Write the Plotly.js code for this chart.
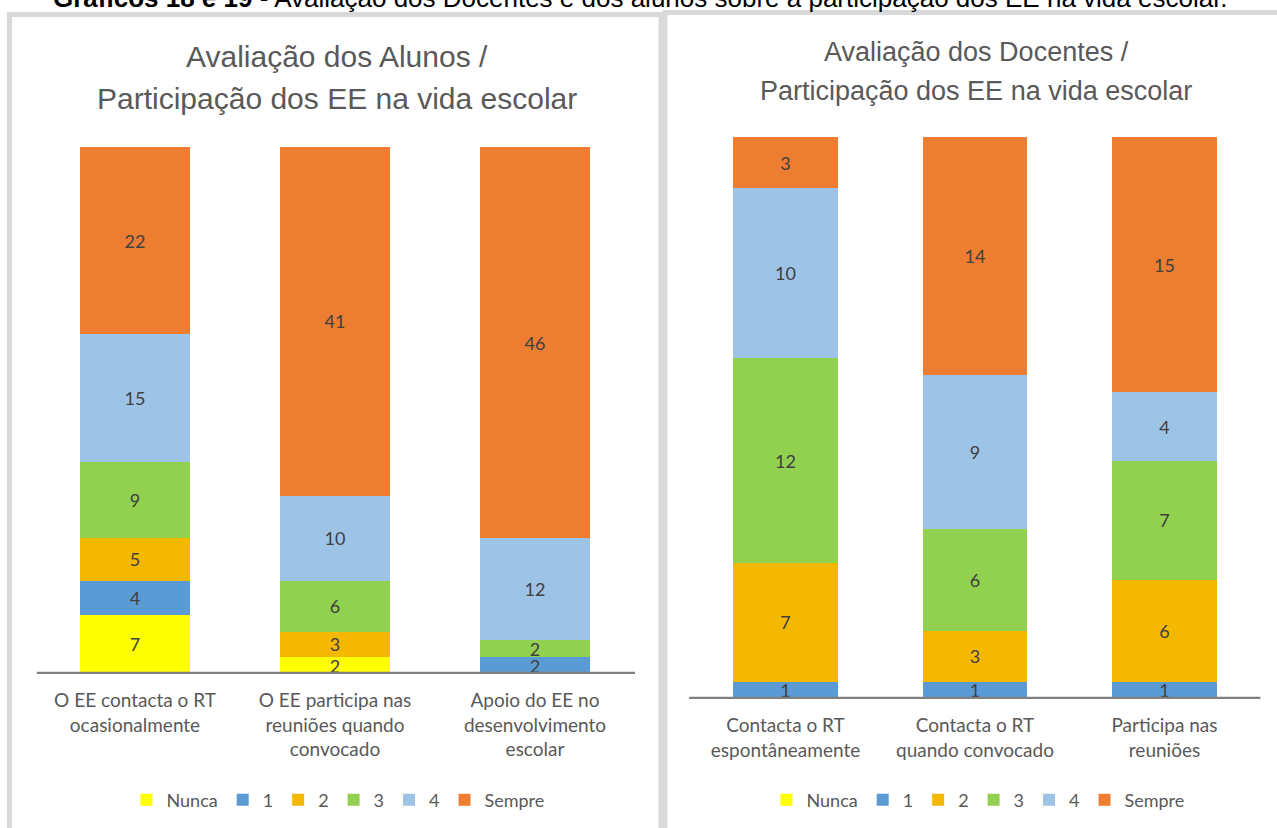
<!DOCTYPE html>
<html>
<head>
<meta charset="utf-8">
<script src="https://cdn.plot.ly/plotly-3.0.1.min.js"></script>
<style>
  html, body { margin: 0; padding: 0; background: #ffffff; }
  #chart { width: 1277px; height: 828px; }
</style>
</head>
<body>
<div id="chart"></div>
<script>
// ---------- Data ----------
var seriesNames = ['Nunca', '1', '2', '3', '4', 'Sempre'];
var seriesColors = ['#FFFF00', '#5B9BD5', '#F5B800', '#92D050', '#9DC3E6', '#ED7D31'];

// Chart 1: Avaliação dos Alunos
var alunosCategorias = ['O EE contacta o RT ocasionalmente', 'O EE participa nas reuniões quando convocado', 'Apoio do EE no desenvolvimento escolar'];
var alunosTickLabels = ['O EE contacta o RT<br>ocasionalmente', 'O EE participa nas<br>reuniões quando<br>convocado', 'Apoio do EE no<br>desenvolvimento<br>escolar'];
var alunosNunca  = [7, 2, 0];
var alunos1      = [4, 0, 2];
var alunos2      = [5, 3, 0];
var alunos3      = [9, 6, 2];
var alunos4      = [15, 10, 12];
var alunosSempre = [22, 41, 46];

// Chart 2: Avaliação dos Docentes
var docentesCategorias = ['Contacta o RT espontâneamente', 'Contacta o RT quando convocado', 'Participa nas reuniões'];
var docentesTickLabels = ['Contacta o RT<br>espontâneamente', 'Contacta o RT<br>quando convocado', 'Participa nas<br>reuniões'];
var docentesNunca  = [0, 0, 0];
var docentes1      = [1, 1, 1];
var docentes2      = [7, 3, 6];
var docentes3      = [12, 6, 7];
var docentes4      = [10, 9, 4];
var docentesSempre = [3, 14, 15];

var captionBold = 'Gráficos 18 e 19';
var captionRest = ' - Avaliação dos Docentes e dos alunos sobre a participação dos EE na vida escolar.';
var tituloAlunos = ['Avaliação dos Alunos /', 'Participação dos EE na vida escolar'];
var tituloDocentes = ['Avaliação dos Docentes /', 'Participação dos EE na vida escolar'];

// ---------- Layout helpers ----------
var W = 1277, H = 828;
function px(x) { return x / W; }
function py(y) { return 1 - y / H; }

var labelFont = 'Lato, "Open Sans", sans-serif';
var arialFont = 'Arial, "Liberation Sans", sans-serif';

function makeTraces(cats, seriesVals, xa, ya, legendId) {
  return seriesVals.map(function (vals, i) {
    return {
      type: 'bar',
      name: seriesNames[i],
      x: cats,
      y: vals,
      xaxis: xa,
      yaxis: ya,
      legend: legendId,
      marker: { color: seriesColors[i], line: { width: 0 } },
      text: vals.map(function (v) { return v > 0 ? String(v) : ''; }),
      textposition: 'inside',
      insidetextanchor: 'middle',
      textangle: 0,
      constraintext: 'none',
      textfont: { family: labelFont, size: 18, color: '#404040' },
      hoverinfo: 'skip'
    };
  });
}

var traces = []
  .concat(makeTraces(alunosCategorias, [alunosNunca, alunos1, alunos2, alunos3, alunos4, alunosSempre], 'x', 'y', 'legend'))
  .concat(makeTraces(docentesCategorias, [docentesNunca, docentes1, docentes2, docentes3, docentes4, docentesSempre], 'x2', 'y2', 'legend2'));

var alunosTotal = alunosNunca.map(function (v, i) { return v + alunos1[i] + alunos2[i] + alunos3[i] + alunos4[i] + alunosSempre[i]; });
var docentesTotal = docentesNunca.map(function (v, i) { return v + docentes1[i] + docentes2[i] + docentes3[i] + docentes4[i] + docentesSempre[i]; });
var alunosMax = Math.max.apply(null, alunosTotal);
var docentesMax = Math.max.apply(null, docentesTotal);

var tickFont = { family: labelFont, size: 19, color: '#595959' };

var layout = {
  width: W, height: H,
  autosize: false,
  margin: { l: 0, r: 0, t: 0, b: 0, pad: 0 },
  paper_bgcolor: '#ffffff',
  plot_bgcolor: '#ffffff',
  barmode: 'stack',
  bargap: 0.45,
  showlegend: true,
  xaxis: {
    domain: [px(35), px(635)], anchor: 'y',
    type: 'category', categoryorder: 'array', categoryarray: alunosCategorias,
    tickvals: alunosCategorias, ticktext: alunosTickLabels,
    showline: false, showgrid: false, zeroline: false, ticks: '',
    ticklabelstandoff: 13,
    tickfont: tickFont, fixedrange: true, range: [-0.5, 2.5], tickangle: 0
  },
  yaxis: {
    domain: [py(674), py(147)], anchor: 'x',
    range: [0, alunosMax], visible: false, fixedrange: true
  },
  xaxis2: {
    domain: [px(690.75), px(1259.25)], anchor: 'y2',
    type: 'category', categoryorder: 'array', categoryarray: docentesCategorias,
    tickvals: docentesCategorias, ticktext: docentesTickLabels,
    showline: false, showgrid: false, zeroline: false, ticks: '',
    ticklabelstandoff: 13,
    tickfont: tickFont, fixedrange: true, range: [-0.5, 2.5], tickangle: 0
  },
  yaxis2: {
    domain: [py(699), py(137)], anchor: 'x2',
    range: [0, docentesMax], visible: false, fixedrange: true
  },
  legend: {
    orientation: 'h', x: px(338), xanchor: 'center', y: py(800), yanchor: 'middle',
    font: { family: labelFont, size: 18, color: '#595959' },
    itemwidth: 30, traceorder: 'normal', bgcolor: 'rgba(0,0,0,0)'
  },
  legend2: {
    orientation: 'h', x: px(978), xanchor: 'center', y: py(800), yanchor: 'middle',
    font: { family: labelFont, size: 18, color: '#595959' },
    itemwidth: 30, traceorder: 'normal', bgcolor: 'rgba(0,0,0,0)'
  },
  shapes: [
    // panel borders
    { type: 'rect', xref: 'paper', yref: 'paper', x0: px(9.5), x1: px(661), y0: py(14.5), y1: py(860),
      line: { color: '#D9D9D9', width: 5 }, fillcolor: 'rgba(0,0,0,0)', layer: 'below' },
    { type: 'rect', xref: 'paper', yref: 'paper', x0: px(665), x1: px(1300), y0: py(12.5), y1: py(860),
      line: { color: '#D9D9D9', width: 5 }, fillcolor: 'rgba(0,0,0,0)', layer: 'below' },
    // category axis lines
    { type: 'line', xref: 'x domain', yref: 'y', x0: 0.003, x1: 1, y0: 0, y1: 0,
      line: { color: '#808080', width: 4.5 }, layer: 'above' },
    { type: 'line', xref: 'x2 domain', yref: 'y2', x0: -0.003, x1: 1.002, y0: 0, y1: 0,
      line: { color: '#808080', width: 4.5 }, layer: 'above' }
  ],
  annotations: [
    { xref: 'paper', yref: 'paper', x: px(640), y: py(-2), xanchor: 'center', yanchor: 'middle',
      text: '<b>' + captionBold + '</b>' + captionRest, showarrow: false,
      font: { family: arialFont, size: 26, color: '#000000' } },
    { xref: 'paper', yref: 'paper', x: px(337), y: py(57), xanchor: 'center', yanchor: 'middle',
      text: tituloAlunos[0], showarrow: false, font: { family: arialFont, size: 30, color: '#595959' } },
    { xref: 'paper', yref: 'paper', x: px(337), y: py(99), xanchor: 'center', yanchor: 'middle',
      text: tituloAlunos[1], showarrow: false, font: { family: arialFont, size: 30, color: '#595959' } },
    { xref: 'paper', yref: 'paper', x: px(976), y: py(52), xanchor: 'center', yanchor: 'middle',
      text: tituloDocentes[0], showarrow: false, font: { family: arialFont, size: 27, color: '#595959' } },
    { xref: 'paper', yref: 'paper', x: px(976), y: py(91), xanchor: 'center', yanchor: 'middle',
      text: tituloDocentes[1], showarrow: false, font: { family: arialFont, size: 27, color: '#595959' } }
  ]
};

Plotly.newPlot('chart', traces, layout, { staticPlot: true, displayModeBar: false });
</script>
</body>
</html>
